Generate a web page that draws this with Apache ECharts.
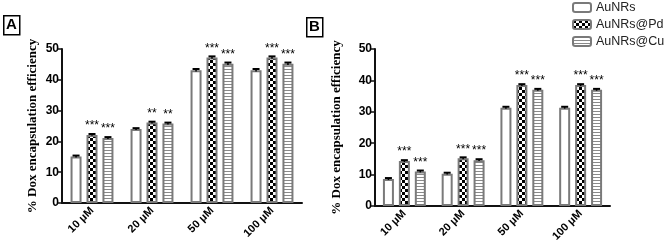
<!DOCTYPE html>
<html>
<head>
<meta charset="utf-8">
<script src="https://cdn.jsdelivr.net/npm/echarts@6/dist/echarts.min.js"></script>
<style>html,body{margin:0;padding:0;background:#fff}#c{width:664px;height:247px}</style>
</head>
<body>
<div id="c"></div>
<script>
// ---- data ----
var categories = ['10 μM', '20 μM', '50 μM', '100 μM'];
var seriesNames = ['AuNRs', 'AuNRs@Pd', 'AuNRs@Cu'];
var yTicks = [0, 10, 20, 30, 40, 50];

var aAuNRs = [15.1, 24.0, 43.1, 43.1];
var aPd    = [22.1, 26.1, 47.2, 47.2];
var aCu    = [21.1, 25.8, 45.2, 45.2];
var aErr   = [0.3, 0.3, 0.4, 0.4];
var aSigPd = ['***', '**', '***', '***'];
var aSigCu = ['***', '**', '***', '***'];

var bAuNRs = [8.6, 10.3, 31.3, 31.3];
var bPd    = [14.3, 15.2, 38.5, 38.5];
var bCu    = [11.0, 14.6, 37.0, 37.0];
var bErr   = [0.3, 0.3, 0.3, 0.3];
var bSigPd = ['***', '***', '***', '***'];
var bSigCu = ['***', '***', '***', '***'];

// ---- patterns ----
function checker() {
  var c = document.createElement('canvas'); c.width = 6; c.height = 6;
  var g = c.getContext('2d');
  g.fillStyle = '#fff'; g.fillRect(0, 0, 6, 6);
  g.fillStyle = '#000'; g.fillRect(0, 0, 3, 3); g.fillRect(3, 3, 3, 3);
  return { image: c, repeat: 'repeat' };
}
function stripes() {
  var c = document.createElement('canvas'); c.width = 4; c.height = 3;
  var g = c.getContext('2d');
  g.fillStyle = '#fff'; g.fillRect(0, 0, 4, 3);
  g.fillStyle = '#8a8a8a'; g.fillRect(0, 0, 4, 1);
  return { image: c, repeat: 'repeat' };
}
var fills = ['#ffffff', checker(), stripes()];
var BAR_W = 11, BAR_GAP = 0.45, BORDER = '#7a7a7a';

var grids = [
  { left: 62, top: 49, width: 240, height: 154 },
  { left: 375, top: 49, width: 235, height: 157 }
];
var nameGaps = [23, 32];

var xAxes = [], yAxes = [], series = [];
function errRender(offsetIdx, errs) {
  return function (params, api) {
    var i = api.value(0), v = api.value(1), e = errs[i];
    var p0 = api.coord([i, v]);
    var off = (offsetIdx - 1) * BAR_W * (1 + BAR_GAP);
    var x = p0[0] + off;
    var yTop = api.coord([i, v + e])[1];
    var yBot = api.coord([i, v - e])[1];
    return { type: 'group', children: [
      { type: 'line', shape: { x1: x, y1: yTop, x2: x, y2: yBot }, style: { stroke: '#000', lineWidth: 1.5 } },
      { type: 'line', shape: { x1: x - 3.5, y1: yTop, x2: x + 3.5, y2: yTop }, style: { stroke: '#000', lineWidth: 2 } }
    ]};
  };
}
var panels = [
  { vals: [aAuNRs, aPd, aCu], err: aErr, sig: [null, aSigPd, aSigCu] },
  { vals: [bAuNRs, bPd, bCu], err: bErr, sig: [null, bSigPd, bSigCu] }
];
panels.forEach(function (p, gi) {
  xAxes.push({
    type: 'category', gridIndex: gi, data: categories,
    axisLine: { lineStyle: { color: '#111', width: 2 } },
    axisTick: { alignWithLabel: true, length: 4, lineStyle: { color: '#111', width: 1.5 } },
    axisLabel: { rotate: 45, fontFamily: 'Liberation Sans, Arial', fontWeight: 'bold', fontSize: 11, color: '#000', margin: 6 }
  });
  yAxes.push({
    type: 'value', gridIndex: gi, min: 0, max: 50, interval: 10,
    name: '% Dox encapsulation efficiency', nameLocation: 'middle', nameGap: nameGaps[gi],
    nameTextStyle: { fontFamily: 'Liberation Serif, Times New Roman', fontWeight: 'bold', fontSize: 13, color: '#000' },
    axisLine: { show: true, lineStyle: { color: '#111', width: 2 } },
    axisTick: { show: true, length: 4, lineStyle: { color: '#111', width: 1.5 } },
    splitLine: { show: false },
    axisLabel: { fontFamily: 'Liberation Sans, Arial', fontWeight: 'bold', fontSize: 12, color: '#000', margin: 3,
      formatter: function (v) { return yTicks.indexOf(v) >= 0 ? String(v) : ''; } }
  });
  p.vals.forEach(function (vals, si) {
    var sig = p.sig[si];
    series.push({
      type: 'bar', name: seriesNames[si], xAxisIndex: gi, yAxisIndex: gi,
      data: vals, barWidth: BAR_W, barGap: (BAR_GAP * 100) + '%',
      itemStyle: { color: fills[si], borderColor: BORDER, borderWidth: 2 },
      label: sig ? { show: true, position: 'top', distance: 3, fontFamily: 'Liberation Sans, Arial', fontSize: 12, color: '#000',
        formatter: function (d) { return sig[d.dataIndex]; } } : { show: false },
      silent: true, animation: false
    });
    series.push({
      type: 'custom', xAxisIndex: gi, yAxisIndex: gi, renderItem: errRender(si, p.err),
      data: vals.map(function (v, i) { return [i, v]; }), z: 5, silent: true, animation: false
    });
  });
});

var chart = echarts.init(document.getElementById('c'));
chart.setOption({
  animation: false,
  grid: grids,
  xAxis: xAxes,
  yAxis: yAxes,
  legend: {
    data: seriesNames, orient: 'vertical', left: 572, top: 1, padding: 0, itemWidth: 18, itemHeight: 9, itemGap: 4,
    textStyle: { fontFamily: 'Liberation Sans, Arial', fontSize: 12.5, color: '#222' }, selectedMode: false
  },
  series: series,
  graphic: [
    { type: 'rect', left: 3, top: 15, shape: { width: 16, height: 19 }, style: { fill: '#fff', stroke: '#000', lineWidth: 1.5 } },
    { type: 'text', left: 6, top: 17, style: { text: 'A', font: 'bold 15px Liberation Sans, Arial', fill: '#000' } },
    { type: 'rect', left: 306, top: 17, shape: { width: 16, height: 19 }, style: { fill: '#fff', stroke: '#000', lineWidth: 1.5 } },
    { type: 'text', left: 309, top: 19, style: { text: 'B', font: 'bold 15px Liberation Sans, Arial', fill: '#000' } }
  ]
});
</script>
</body>
</html>
